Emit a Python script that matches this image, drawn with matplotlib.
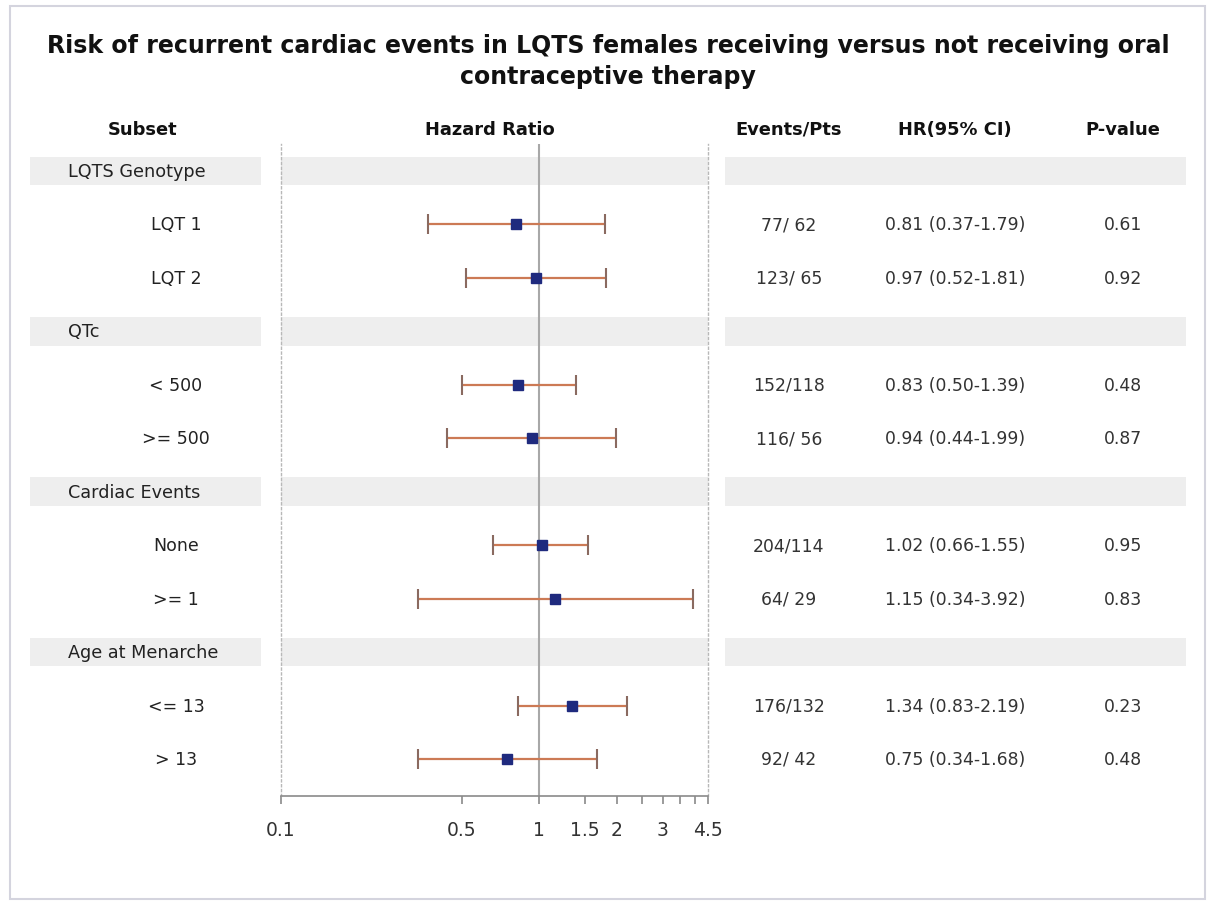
import matplotlib
matplotlib.use("Agg")
import matplotlib.pyplot as plt
from matplotlib.patches import Rectangle
from matplotlib.ticker import FixedLocator, FixedFormatter, NullLocator
import numpy as np

plt.rcParams["font.family"] = ["DejaVu Sans"]

# ---------------- data ----------------
title = "Risk of recurrent cardiac events in LQTS females receiving versus not receiving oral\ncontraceptive therapy"
groups = ["LQTS Genotype", "QTc", "Cardiac Events", "Age at Menarche"]
subgroups = [["LQT 1", "LQT 2"], ["< 500", ">= 500"], ["None", ">= 1"], ["<= 13", "> 13"]]
hr = [0.81, 0.97, 0.83, 0.94, 1.02, 1.15, 1.34, 0.75]
lo = [0.37, 0.52, 0.50, 0.44, 0.66, 0.34, 0.83, 0.34]
hi = [1.79, 1.81, 1.39, 1.99, 1.55, 3.92, 2.19, 1.68]
events = ["77/ 62", "123/ 65", "152/118", "116/ 56", "204/114", "64/ 29", "176/132", "92/ 42"]
hr_text = ["0.81 (0.37-1.79)", "0.97 (0.52-1.81)", "0.83 (0.50-1.39)", "0.94 (0.44-1.99)",
           "1.02 (0.66-1.55)", "1.15 (0.34-3.92)", "1.34 (0.83-2.19)", "0.75 (0.34-1.68)"]
pvals = ["0.61", "0.92", "0.48", "0.87", "0.95", "0.83", "0.23", "0.48"]
headers = ["Subset", "Hazard Ratio", "Events/Pts", "HR(95% CI)", "P-value"]
xticks = [0.1, 0.5, 1, 1.5, 2, 2.5, 3, 3.5, 4, 4.5]
xticklabels = ["0.1", "0.5", "1", "1.5", "2", "", "3", "", "", "4.5"]

# ---------------- layout ----------------
W, H = 1207, 903
fig = plt.figure(figsize=(W / 100, H / 100), dpi=100)
fig.patch.set_facecolor("white")

ROW0, STEP = 172.0, 53.45          # pixel y of first row, row spacing
def prow(p):                        # pixel y -> row units
    return (p - ROW0) / STEP

# rows: group header rows and item rows
row_kind, row_text, item_rows = [], [], []
r = 0
for g, subs in zip(groups, subgroups):
    row_kind.append("g"); row_text.append(g); r += 1
    for s in subs:
        row_kind.append("s"); row_text.append(s); item_rows.append(r); r += 1
item_rows = np.array(item_rows)

# background axes (full figure, x in pixels, y in row units)
axb = fig.add_axes([0, 0, 1, 1], zorder=0)
axb.set_xlim(0, W)
axb.set_ylim(prow(H), prow(0))
axb.axis("off")

# frame
axb.add_patch(Rectangle((10, prow(900)), 1195, prow(7) - prow(900),
                        fill=False, edgecolor="#d4d4de", lw=1.5))

fig.text(608 / W, 1 - 61.5 / H, title, ha="center", va="center",
         fontsize=17, fontweight="bold", color="#111111", linespacing=1.38)

BAND_H = 0.27
band_col = "#eeeeee"
for i, k in enumerate(row_kind):
    if k == "g":
        for x0, x1 in [(30, 261), (725, 1186)]:
            axb.add_patch(Rectangle((x0, i - BAND_H), x1 - x0, 2 * BAND_H,
                                    facecolor=band_col, edgecolor="none"))
        axb.text(68, i, row_text[i], ha="left", va="center", fontsize=12.7, color="#222222")
    else:
        axb.text(176, i, row_text[i], ha="center", va="center", fontsize=12.5, color="#222222")

# headers
hx = [143, 490, 789, 955, 1123]
for x, h in zip(hx, headers):
    axb.text(x, prow(130), h, ha="center", va="center", fontsize=12.9,
             fontweight="bold", color="#111111")

# table columns
for rr, e, t, p in zip(item_rows, events, hr_text, pvals):
    axb.text(789, rr, e, ha="center", va="center", fontsize=12.4, color="#333333")
    axb.text(955, rr, t, ha="center", va="center", fontsize=12.4, color="#333333")
    axb.text(1123, rr, p, ha="center", va="center", fontsize=12.4, color="#333333")

# forest plot axes
x0p, x1p, ytop, ybot = 281, 708, 145, 797
ax = fig.add_axes([x0p / W, 1 - ybot / H, (x1p - x0p) / W, (ybot - ytop) / H], zorder=1)
ax.patch.set_alpha(0)
ax.set_xscale("log")
ax.set_xlim(0.1, 4.5)
ax.set_ylim(prow(ybot), prow(ytop))

for i, k in enumerate(row_kind):
    if k == "g":
        ax.axhspan(i - BAND_H, i + BAND_H, color=band_col, lw=0, zorder=0)

ax.axvline(1, color="#a8a8a8", lw=1.5, zorder=1)
ax.hlines(item_rows, lo, hi, color="#cc7a55", lw=1.6, zorder=2)
ax.plot(lo, item_rows, ls="none", marker="|", ms=15, mew=1.5, color="#8a6a60", zorder=3)
ax.plot(hi, item_rows, ls="none", marker="|", ms=15, mew=1.5, color="#8a6a60", zorder=3)
ax.plot(hr, item_rows, ls="none", marker="s", ms=7.5, color="#1f2a7e", zorder=4)

for s in ["left", "right"]:
    ax.spines[s].set_linestyle((0, (1.5, 2)))
    ax.spines[s].set_color("#b8b8b8")
    ax.spines[s].set_linewidth(1.0)
ax.spines["top"].set_visible(False)
ax.spines["bottom"].set_color("#8a8a8a")
ax.spines["bottom"].set_linewidth(1.2)
ax.set_yticks([])
ax.xaxis.set_major_locator(FixedLocator(xticks))
ax.xaxis.set_major_formatter(FixedFormatter(xticklabels))
ax.xaxis.set_minor_locator(NullLocator())
ax.tick_params(axis="x", length=6, width=1.2, color="#8a8a8a", pad=11,
               labelsize=13.5, labelcolor="#333333")

fig.savefig("out.png", dpi=100, facecolor="white")
